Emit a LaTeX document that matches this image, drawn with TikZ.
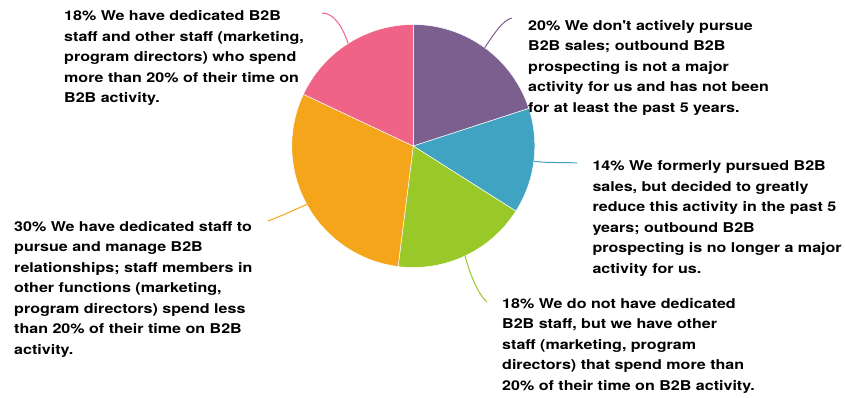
\documentclass[tikz,border=0pt]{standalone}
\usepackage{fontspec}
\setmainfont{TeX Gyre Heros}
\newfontfamily\lblfont[FakeStretch=1.19]{TeX Gyre Heros}
\usetikzlibrary{calc}
\definecolor{cpurple}{RGB}{123,95,143}
\definecolor{cteal}{RGB}{65,163,194}
\definecolor{cgreen}{RGB}{152,201,40}
\definecolor{corange}{RGB}{245,165,26}
\definecolor{cpink}{RGB}{239,99,134}
\tikzset{
  slice/.style={draw=white,line width=0.5pt,line join=round},
  lbl/.style={anchor=base west,inner sep=0pt,align=left,text=black,
    font=\lblfont\fontsize{13.5}{20.5}\selectfont\bfseries},
  leader/.style={line width=1pt}
}
\begin{document}
\begin{tikzpicture}[x=1pt,y=1pt]
\useasboundingbox (0,0) rectangle (845,-397);
\def\R{121.5}
\coordinate (c) at (413.3,-146);
% slices
\fill[cpurple,slice] (c) -- ++(90:\R) arc[start angle=90,end angle=18,radius=\R] -- cycle;
\fill[cteal,slice] (c) -- ++(18:\R) arc[start angle=18,end angle=-32.4,radius=\R] -- cycle;
\fill[cgreen,slice] (c) -- ++(-32.4:\R) arc[start angle=-32.4,end angle=-97.2,radius=\R] -- cycle;
\fill[corange,slice] (c) -- ++(-97.2:\R) arc[start angle=-97.2,end angle=-205.2,radius=\R] -- cycle;
\fill[cpink,slice] (c) -- ++(-205.2:\R) arc[start angle=-205.2,end angle=-270,radius=\R] -- cycle;
% leader start points
\coordinate (pp) at ($(c)+(54:\R)$);
\coordinate (pt) at ($(c)+(-7.2:\R)$);
\coordinate (pg) at ($(c)+(-64.8:\R)$);
\coordinate (po) at ($(c)+(-151.2:\R)$);
\coordinate (pk) at ($(c)+(122.4:\R)$);
% leader end points
\coordinate (ep) at (512,-18);
\coordinate (et) at (577,-163);
\coordinate (eg) at (487,-302);
\coordinate (eo) at (268,-221);
\coordinate (ek) at (322,-13);
\draw[leader,cpurple] (pp) .. controls ($(pp)+(10,15)$) and ($(ep)+(-9,-2)$) .. (ep);
\draw[leader,cteal] (pt) .. controls ($(pt)+(15,-2)$) and ($(et)+(-18,1)$) .. (et);
\draw[leader,cgreen] (pg) .. controls ($(pg)+(6,-22)$) and ($(eg)+(-8,7)$) .. (eg);
\draw[leader,corange] (po) .. controls ($(po)+(-12,-5)$) and ($(eo)+(18,7)$) .. (eo);
\draw[leader,cpink] (pk) .. controls ($(pk)+(-6,17)$) and ($(ek)+(12,0)$) .. (ek);
% labels (anchored at the baseline of the last line)
\node[lbl] (tp) at (528,-112) {20\% We don't actively pursue\\B2B sales; outbound B2B\\prospecting is not a major\\activity for us and has not been\\for at least the past 5 years.};
\node[lbl] (tt) at (592.3,-273.2) {14\% We formerly pursued B2B\\sales, but decided to greatly\\reduce this activity in the past 5\\years; outbound B2B\\prospecting is no longer a major\\activity for us.};
\node[lbl] (tg) at (502,-390) {18\% We do not have dedicated\\B2B staff, but we have other\\staff (marketing, program\\directors) that spend more than\\20\% of their time on B2B activity.};
\node[lbl] (to) at (14,-354.3) {30\% We have dedicated staff to\\pursue and manage B2B\\relationships; staff members in\\other functions (marketing,\\program directors) spend less\\than 20\% of their time on B2B\\activity.};
\node[lbl] (tk) at (64,-102.7) {18\% We have dedicated B2B\\staff and other staff (marketing,\\program directors) who spend\\more than 20\% of their time on\\B2B activity.};
\end{tikzpicture}
\end{document}
